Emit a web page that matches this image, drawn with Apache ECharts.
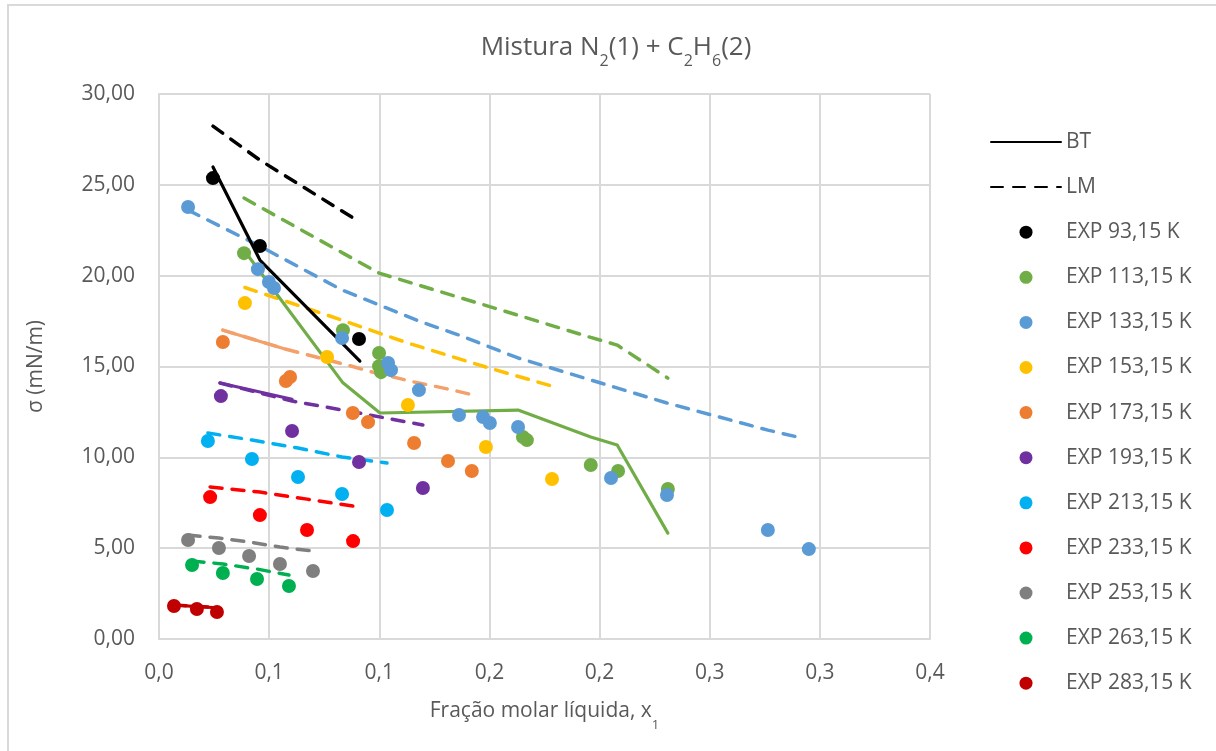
<!DOCTYPE html>
<html>
<head>
<meta charset="utf-8">
<script src="https://cdn.jsdelivr.net/npm/echarts@6/dist/echarts.min.js"></script>
<style>
html,body{margin:0;padding:0;background:#fff;}
#chart{width:1216px;height:751px;}
</style>
</head>
<body>
<div id="chart"></div>
<script>
// ---- tick labels ----
const xTickLabels = ['0,0','0,1','0,1','0,2','0,2','0,3','0,3','0,4'];
const yTickLabels = ['0,00','5,00','10,00','15,00','20,00','25,00','30,00'];

// ---- experimental points [x1, sigma] ----
const exp93  = [[0.0245,25.37],[0.0458,21.63],[0.0908,16.51]];
const exp113 = [[0.0386,21.24],[0.0835,17.0],[0.0999,15.74],[0.0999,15.02],[0.1008,14.69],[0.1652,11.12],[0.167,10.95],[0.196,9.58],[0.2084,9.25],[0.231,8.26]];
const exp133 = [[0.0132,23.78],[0.0449,20.36],[0.0499,19.65],[0.0522,19.32],[0.0831,16.57],[0.104,15.19],[0.1053,14.80],[0.118,13.70],[0.1362,12.33],[0.1471,12.22],[0.1502,11.89],[0.163,11.67],[0.2052,8.86],[0.2306,7.93],[0.2764,6.0],[0.295,4.95]];
const exp153 = [[0.039,18.49],[0.0763,15.52],[0.113,12.88],[0.1484,10.57],[0.1784,8.81]];
const exp173 = [[0.029,16.35],[0.0576,14.2],[0.0595,14.42],[0.088,12.44],[0.0949,11.94],[0.1158,10.79],[0.1312,9.80],[0.142,9.25]];
const exp193 = [[0.0281,13.37],[0.0604,11.45],[0.0908,9.74],[0.1198,8.31]];
const exp213 = [[0.0222,10.9],[0.0422,9.91],[0.0631,8.92],[0.0831,7.98],[0.1035,7.10]];
const exp233 = [[0.0232,7.81],[0.0458,6.82],[0.0672,6.0],[0.0881,5.39]];
const exp253 = [[0.0132,5.45],[0.0272,5.01],[0.0409,4.57],[0.0549,4.13],[0.0699,3.74]];
const exp263 = [[0.015,4.07],[0.029,3.63],[0.0445,3.30],[0.059,2.92]];
const exp283 = [[0.0068,1.82],[0.0172,1.65],[0.0263,1.49]];

// ---- BT model (solid) ----
const bt93  = [[0.0245,25.98],[0.0458,20.86],[0.0912,15.30]];
const bt113 = [[0.0386,21.4],[0.0835,14.1],[0.1003,12.44],[0.163,12.6],[0.196,11.12],[0.208,10.68],[0.231,5.83]];
const bt173 = [[0.029,17.0],[0.0576,15.95]];
const bt193 = [[0.0277,14.09],[0.0604,13.2]];
const bt283 = [[0.0068,1.87],[0.0172,1.78],[0.0263,1.72]];

// ---- LM model (dashed) ----
const lm93  = [[0.0245,28.23],[0.0458,26.36],[0.0912,22.95]];
const lm113 = [[0.0386,24.27],[0.0835,21.24],[0.0999,20.14],[0.165,17.75],[0.196,16.6],[0.208,16.18],[0.231,14.36]];
const lm133 = [[0.0132,23.61],[0.0449,21.68],[0.0831,19.21],[0.118,17.50],[0.1362,16.73],[0.163,15.47],[0.2052,13.92],[0.2306,12.99],[0.2764,11.50],[0.2919,11.06]];
const lm153 = [[0.039,19.35],[0.0763,17.83],[0.113,16.29],[0.1484,14.97],[0.1784,13.92]];
const lm173 = [[0.029,17.0],[0.0576,15.95],[0.088,15.0],[0.0949,14.75],[0.1158,14.15],[0.1312,13.76],[0.142,13.45]];
const lm193 = [[0.0277,14.09],[0.0604,13.1],[0.0908,12.44],[0.1198,11.78]];
const lm213 = [[0.0222,11.34],[0.0422,10.95],[0.0631,10.51],[0.0831,10.02],[0.1035,9.69]];
const lm233 = [[0.0232,8.37],[0.0458,8.09],[0.0672,7.70],[0.0881,7.32]];
const lm253 = [[0.0132,5.72],[0.0272,5.56],[0.0409,5.34],[0.0549,5.06],[0.0699,4.84]];
const lm263 = [[0.015,4.29],[0.029,4.13],[0.0445,3.85],[0.059,3.52]];
const lm283 = [[0.0068,1.87],[0.0172,1.80],[0.0263,1.74]];

const expNames = ['EXP 93,15 K','EXP 113,15 K','EXP 133,15 K','EXP 153,15 K','EXP 173,15 K','EXP 193,15 K','EXP 213,15 K','EXP 233,15 K','EXP 253,15 K','EXP 263,15 K','EXP 283,15 K'];
const expData = [exp93,exp113,exp133,exp153,exp173,exp193,exp213,exp233,exp253,exp263,exp283];
const colors = ['#000000','#70AD47','#5B9BD5','#FFC000','#ED7D31','#7030A0','#00B0F0','#FF0000','#7F7F7F','#00B050','#C00000'];
const lmData = [lm93,lm113,lm133,lm153,lm173,lm193,lm213,lm233,lm253,lm263,lm283];
const lmColors = ['#000000','#70AD47','#5B9BD5','#FFC000','#F4A06B','#7030A0','#00B0F0','#FF0000','#7F7F7F','#00B050','#C00000'];
const btData = [bt93,bt113,bt173,bt193,bt283];
const btColors = ['#000000','#70AD47','#F4A06B','#7030A0','#C00000'];

const FONT = 'Open Sans';
const TXT = '#595959';
const DASH = [12, 10];

const series = [];
lmData.forEach((d, i) => {
  series.push({
    name: i === 0 ? 'LM' : 'LM_' + i,
    type: 'line', data: d, symbol: 'none', z: 2,
    lineStyle: {color: lmColors[i], width: 3.5, type: DASH, cap: 'round'},
    itemStyle: {color: lmColors[i]}
  });
});
btData.forEach((d, i) => {
  series.push({
    name: i === 0 ? 'BT' : 'BT_' + i,
    type: 'line', data: d, symbol: 'none', z: 3,
    lineStyle: {color: btColors[i], width: 3.2, cap: 'round', join: 'round'},
    itemStyle: {color: btColors[i]}
  });
});
expData.forEach((d, i) => {
  series.push({
    name: expNames[i], type: 'scatter', data: d, symbol: 'circle', symbolSize: 14, z: 4,
    itemStyle: {color: colors[i], opacity: 1}
  });
});

const hidden = {color: 'rgba(0,0,0,0)', borderColor: 'rgba(0,0,0,0)', borderWidth: 0, opacity: 0};

const subRich = (size, pad) => ({
  a: {fontFamily: FONT, fontSize: size, color: TXT, lineHeight: 30, verticalAlign: 'top'},
  s: {fontFamily: FONT, fontSize: Math.round(size * 0.62), color: TXT, lineHeight: 14, padding: [pad,0,0,0], verticalAlign: 'top'}
});

const chart = echarts.init(document.getElementById('chart'), null, {renderer: 'canvas'});
chart.setOption({
  animation: false,
  backgroundColor: '#fff',
  textStyle: {fontFamily: FONT},
  graphic: [{
    type: 'rect', shape: {x: 8, y: 5, width: 1300, height: 900}, silent: true,
    style: {fill: 'none', stroke: '#D9D9D9', lineWidth: 2}
  }],
  title: {
    text: '{a|Mistura N}{s|2}{a|(1) + C}{s|2}{a|H}{s|6}{a|(2)}',
    left: 611, top: 30, textAlign: 'center',
    textStyle: {fontWeight: 'normal', rich: subRich(26, 18)}
  },
  grid: {left: 159, right: 286, top: 94, bottom: 112, containLabel: false},
  xAxis: {
    type: 'value', min: 0, max: 0.35, interval: 0.05,
    name: '{a|Fração molar líquida, x}{s|1}',
    nameLocation: 'middle', nameGap: 62,
    nameTextStyle: {rich: subRich(21, 18)},
    axisLine: {show: true, lineStyle: {color: '#D9D9D9', width: 2}},
    axisTick: {show: false},
    splitLine: {show: true, lineStyle: {color: '#D9D9D9', width: 2}},
    axisLabel: {
      margin: 24, color: TXT, fontFamily: FONT, fontSize: 21,
      formatter: v => xTickLabels[Math.round(v / 0.05)]
    }
  },
  yAxis: {
    type: 'value', min: 0, max: 30, interval: 5,
    name: 'σ (mN/m)', nameLocation: 'middle', nameGap: 112, nameRotate: 90,
    nameTextStyle: {fontFamily: FONT, fontSize: 21, color: TXT},
    axisLine: {show: true, lineStyle: {color: '#D9D9D9', width: 2}},
    axisTick: {show: false},
    splitLine: {show: true, lineStyle: {color: '#D9D9D9', width: 2}},
    axisLabel: {
      margin: 24, color: TXT, fontFamily: FONT, fontSize: 21,
      formatter: v => yTickLabels[Math.round(v / 5)]
    }
  },
  legend: {
    orient: 'vertical', left: 985, top: 125,
    itemWidth: 70, itemHeight: 13, itemGap: 21.1,
    textStyle: {fontFamily: FONT, fontSize: 21, color: TXT, lineHeight: 24},
    data: [
      {name: 'BT', itemStyle: hidden},
      {name: 'LM', itemStyle: hidden}
    ].concat(expNames.map(n => ({name: n, icon: 'circle'})))
  },
  series: series
});
</script>
</body>
</html>
